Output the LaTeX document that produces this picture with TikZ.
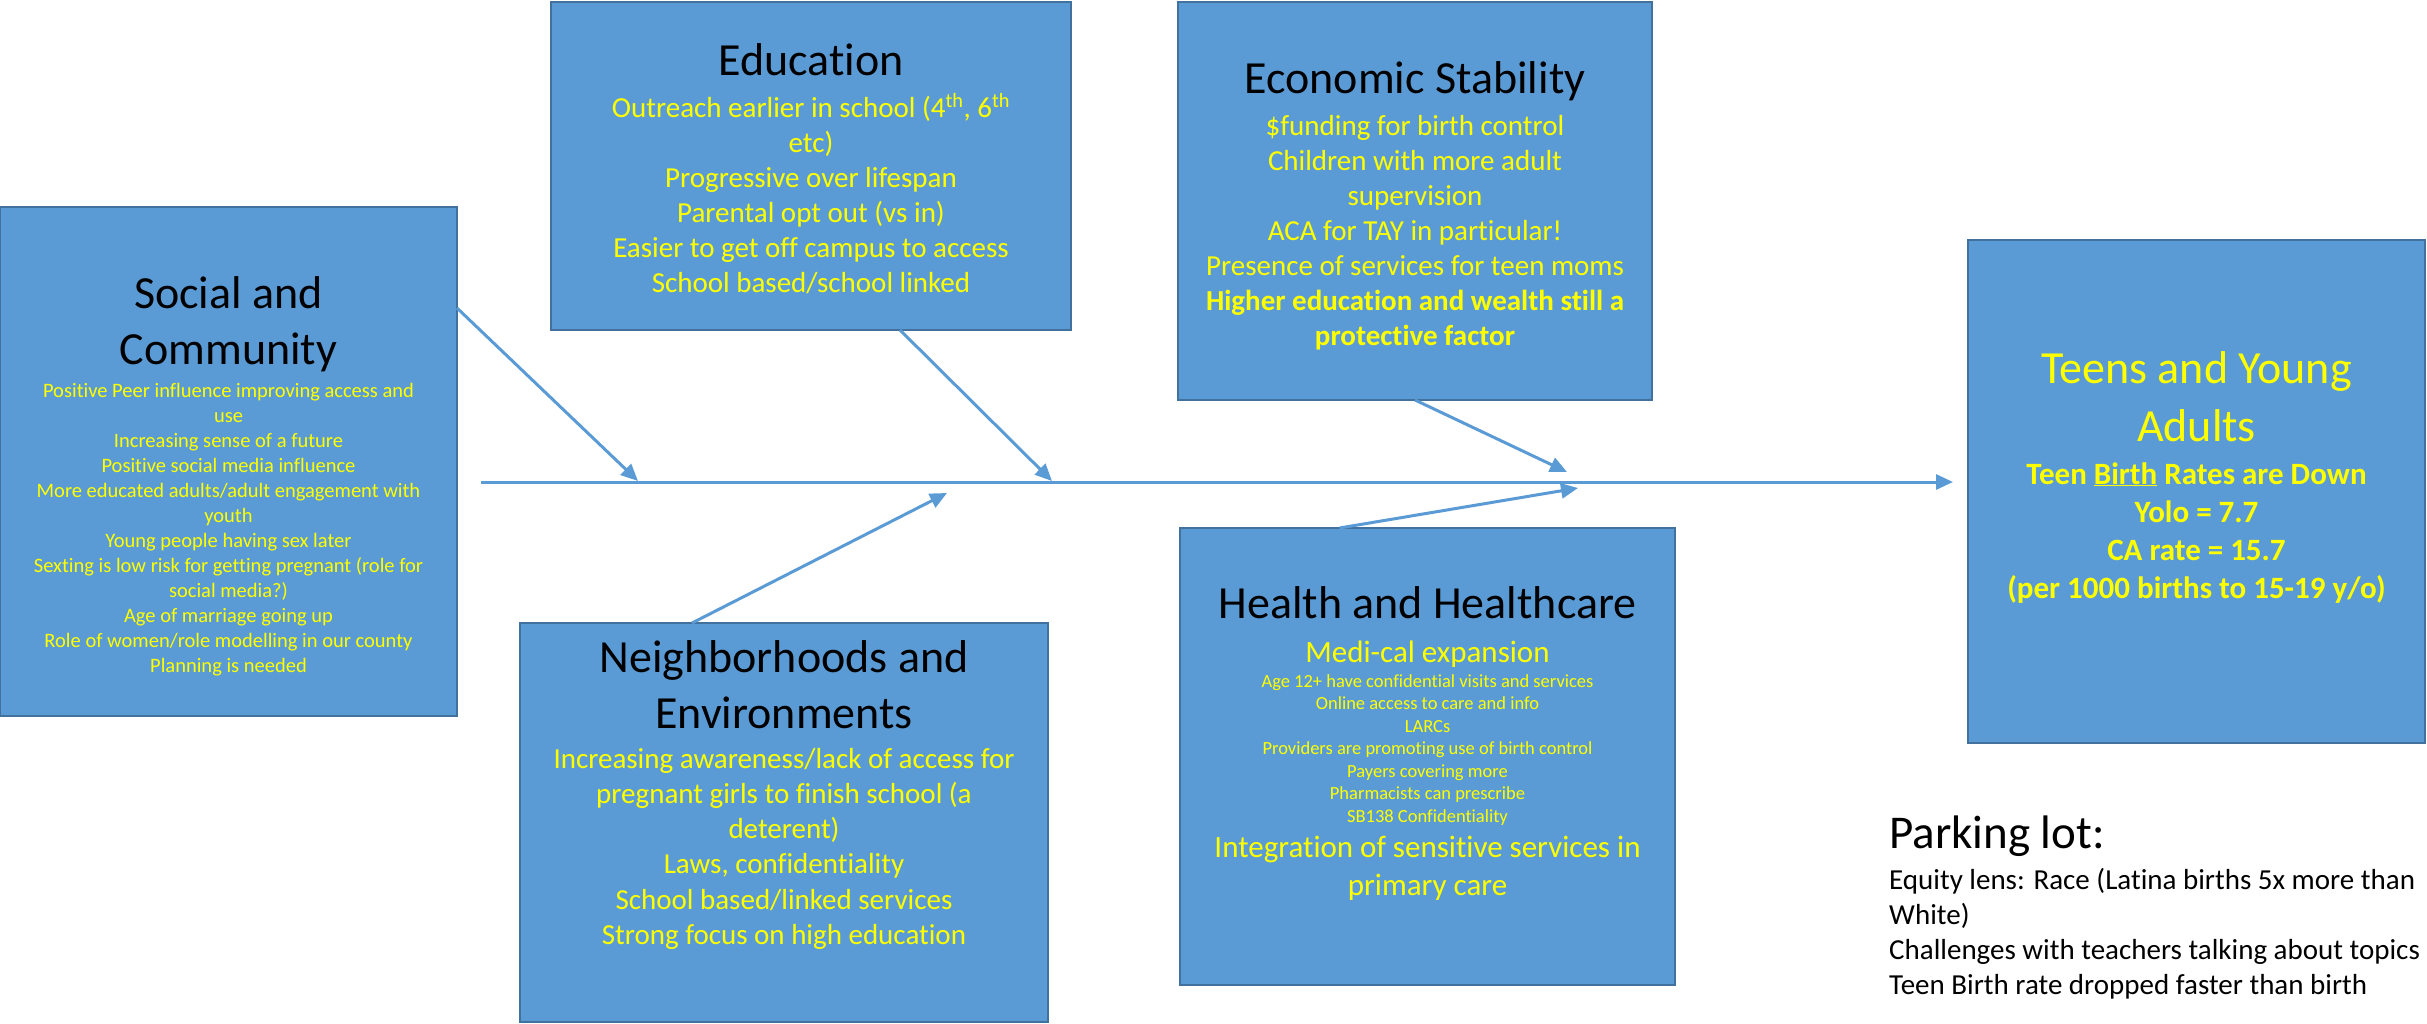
\documentclass[tikz,border=0pt]{standalone}
\usepackage{fontspec}
\setmainfont{Carlito}[Ligatures=NoCommon]
\usetikzlibrary{arrows.meta}
\definecolor{boxfill}{HTML}{5B9BD5}
\definecolor{boxedge}{HTML}{41719C}
\definecolor{txtyel}{HTML}{FFFF00}
\newcommand{\mblk}[1]{\parbox[t]{800pt}{\centering #1}}
\newcommand{\lblk}[1]{\parbox[t]{700pt}{\raggedright #1}}
\begin{document}
\begin{tikzpicture}[x=1pt,y=-1pt,
 box/.style={draw=boxedge, fill=boxfill, line width=2.5pt, inner sep=0, outer sep=0},
 ttl/.style={anchor=base, inner sep=0, text=black, font=\fontsize{46}{56}\selectfont},
 yel/.style={anchor=base, inner sep=0, text=txtyel},
 conn/.style={draw=boxfill, line width=3pt, -{Triangle[length=17pt,width=15pt]}},
]
\useasboundingbox (0,0) rectangle (2427,1023);

% boxes
\node[box, minimum width=457, minimum height=509] (soc) at (228.5,461.5) {};
\node[box, minimum width=520, minimum height=328] (edu) at (811,166) {};
\node[box, minimum width=474, minimum height=398] (eco) at (1415,201) {};
\node[box, minimum width=457, minimum height=503] (teen) at (2196.5,491.5) {};
\node[box, minimum width=528, minimum height=399] (nei) at (784,822.5) {};
\node[box, minimum width=495, minimum height=457] (hea) at (1427.5,756.5) {};

% Social and Community
\node[ttl] (socT) at (228.5,308) {\mblk{Social and\\Community}};
\node[yel, font=\fontsize{20.5}{25}\selectfont] (socB) at (228.5,397) {\mblk{Positive Peer influence improving access and\\use\\Increasing sense of a future\\Positive social media influence\\More educated adults/adult engagement with\\youth\\Young people having sex later\\Sexting is low risk for getting pregnant (role for\\social media?)\\Age of marriage going up\\Role of women/role modelling in our county\\Planning is needed}};

% Education
\node[ttl] (eduT) at (811,75) {\mblk{Education}};
\node[yel, font=\fontsize{29}{35}\selectfont] (eduB) at (811,117) {\mblk{Outreach earlier in school (4\textsuperscript{th}, 6\textsuperscript{th}\\etc)\\Progressive over lifespan\\Parental opt out (vs in)\\Easier to get off campus to access\\School based/school linked}};

% Economic Stability
\node[ttl] (ecoT) at (1415,93) {\mblk{Economic Stability}};
\node[yel, font=\fontsize{29}{35}\selectfont] (ecoB) at (1415,135) {\mblk{\$funding for birth control\\Children with more adult\\supervision\\ACA for TAY in particular!\\Presence of services for teen moms\\{\bfseries Higher education and wealth still a\\protective factor}}};

% Teens and Young Adults
\node[yel, font=\fontsize{46}{58}\selectfont] (teenT) at (2196.5,383) {\mblk{Teens and Young\\Adults}};
\node[yel, font=\fontsize{31}{38}\selectfont\bfseries] (teenB) at (2196.5,484) {\mblk{Teen \underline{Birth} Rates are Down\\Yolo = 7.7\\CA rate = 15.7\\(per 1000 births to 15-19 y/o)}};

% Neighborhoods and Environments
\node[ttl] (neiT) at (784,672) {\mblk{Neighborhoods and\\Environments}};
\node[yel, font=\fontsize{29}{35.3}\selectfont] (neiB) at (784,768) {\mblk{Increasing awareness/lack of access for\\pregnant girls to finish school (a\\deterent)\\Laws, confidentiality\\School based/linked services\\Strong focus on high education}};

% Health and Healthcare
\node[ttl] (heaT) at (1427.5,618) {\mblk{Health and Healthcare}};
\node[yel, font=\fontsize{31}{38}\selectfont] (heaM) at (1427.5,662) {\mblk{Medi-cal expansion}};
\node[yel, font=\fontsize{18.5}{22.5}\selectfont] (heaS) at (1427.5,687) {\mblk{Age 12+ have confidential visits and services\\Online access to care and info\\LARCs\\Providers are promoting use of birth control\\Payers covering more\\Pharmacists can prescribe\\SB138 Confidentiality}};
\node[yel, font=\fontsize{31}{38}\selectfont] (heaI) at (1427.5,857) {\mblk{Integration of sensitive services in\\primary care}};

% Parking lot
\node[anchor=base west, inner sep=0, font=\fontsize{47}{56}\selectfont] (parkT) at (1889,848) {Parking lot:};
\node[anchor=base west, inner sep=0, font=\fontsize{29}{35}\selectfont] (parkB) at (1889,889) {\lblk{Equity lens: Race (Latina births 5x more than\\White)\\Challenges with teachers talking about topics\\Teen Birth rate dropped faster than birth}};

% spine
\coordinate (spS) at (481,482);
\coordinate (spE) at (1953,482);
\draw[conn] (spS) -- (spE);

% bones
\coordinate (tSoc) at (638,481);
\coordinate (tEdu) at (1052,481);
\coordinate (tEco) at (1567,472);
\coordinate (tNei) at (947,493);
\coordinate (tHea) at (1578,488);
\draw[conn] ([yshift=153.5pt]soc.east) -- (tSoc);
\draw[conn] ([xshift=89pt]edu.south) -- (tEdu);
\draw[conn] (eco.south) -- (tEco);
\draw[conn] ([xshift=-92pt]nei.north) -- (tNei);
\draw[conn] ([xshift=-88pt]hea.north) -- (tHea);
\end{tikzpicture}
\end{document}
